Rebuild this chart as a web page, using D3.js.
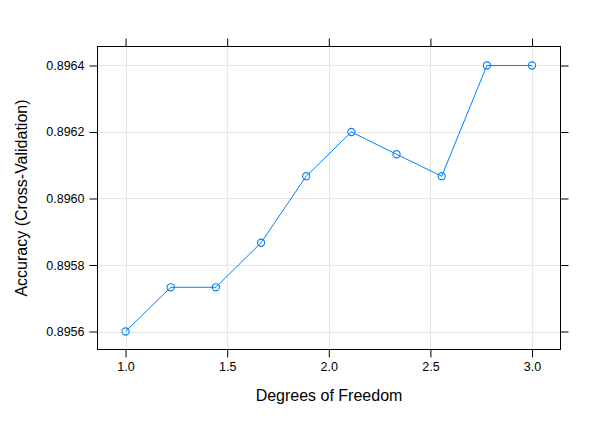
<!DOCTYPE html>
<html>
<head>
<meta charset="utf-8">
<script src="https://cdn.jsdelivr.net/npm/d3@7"></script>
<style>
  body { margin: 0; background: #fff; }
  text { font-family: "Liberation Sans", Arial, Helvetica, sans-serif; fill: #000; }
</style>
</head>
<body>
<svg id="svg" width="599" height="425"></svg>
<script>
const w = 599;
const h = 425;

// panel box
const panelLeft = 97.5;
const panelRight = 560.5;
const panelTop = 46.5;
const panelBottom = 349.5;

// data
const dof = [1.0, 1.2222, 1.4444, 1.6667, 1.8889, 2.1111, 2.3333, 2.5556, 2.7778, 3.0];
const accuracy = [0.8956, 0.895733, 0.895733, 0.895867, 0.896067, 0.8962, 0.896133, 0.896067, 0.8964, 0.8964];
const xTicks = [1.0, 1.5, 2.0, 2.5, 3.0];
const yTicks = [0.8956, 0.8958, 0.896, 0.8962, 0.8964];

const svg = d3.select("#svg");

let xScale = d3.scaleLinear([0.862, 3.14], [panelLeft, panelRight]);
let yScale = d3.scaleLinear([0.8955459, 0.8964571], [panelBottom, panelTop]);

// grid
svg.append("g")
  .selectAll("line")
  .data(xTicks)
  .join("line")
  .attr("x1", (d) => Math.round(xScale(d)) + 0.5)
  .attr("x2", (d) => Math.round(xScale(d)) + 0.5)
  .attr("y1", panelTop)
  .attr("y2", panelBottom)
  .attr("stroke", "#e6e6e6")
  .attr("stroke-width", 1);

svg.append("g")
  .selectAll("line")
  .data(yTicks)
  .join("line")
  .attr("y1", (d) => Math.round(yScale(d)) + 0.5)
  .attr("y2", (d) => Math.round(yScale(d)) + 0.5)
  .attr("x1", panelLeft)
  .attr("x2", panelRight)
  .attr("stroke", "#e6e6e6")
  .attr("stroke-width", 1);

// axes: ticks on all four sides, labels only bottom and left
const tick = 8;
const fmtX = d3.format(".1f");
const fmtY = d3.format(".4f");

const axB = d3.axisBottom(xScale).tickValues(xTicks).tickSize(tick).tickPadding(5).tickFormat(fmtX);
const axT = d3.axisTop(xScale).tickValues(xTicks).tickSize(tick).tickFormat("");
const axL = d3.axisLeft(yScale).tickValues(yTicks).tickSize(tick).tickPadding(5).tickFormat(fmtY);
const axR = d3.axisRight(yScale).tickValues(yTicks).tickSize(tick).tickFormat("");

function styleAxis(g) {
  g.select(".domain").remove();
  g.selectAll(".tick line").attr("stroke", "#000");
  g.selectAll(".tick text")
    .attr("font-size", 12.5)
    .attr("font-family", "'Liberation Sans', Arial, sans-serif")
    .attr("fill", "#000");
}

svg.append("g").attr("transform", `translate(0,${panelBottom})`).call(axB).call(styleAxis);
svg.append("g").attr("transform", `translate(0,${panelTop})`).call(axT).call(styleAxis);
svg.append("g").attr("transform", `translate(${panelLeft},0)`).call(axL).call(styleAxis);
svg.append("g").attr("transform", `translate(${panelRight},0)`).call(axR).call(styleAxis);

// panel border
svg.append("rect")
  .attr("x", panelLeft)
  .attr("y", panelTop)
  .attr("width", panelRight - panelLeft)
  .attr("height", panelBottom - panelTop)
  .attr("fill", "none")
  .attr("stroke", "#000")
  .attr("stroke-width", 1);

// series
const pts = dof.map((d, i) => [d, accuracy[i]]);

let lineFunc = d3
  .line()
  .x((d) => xScale(d[0]))
  .y((d) => yScale(d[1]));

svg.append("path")
  .datum(pts)
  .attr("fill", "none")
  .attr("stroke", "#0080ff")
  .attr("stroke-width", 1)
  .attr("d", lineFunc);

svg.append("g")
  .selectAll("circle")
  .data(pts)
  .join("circle")
  .attr("cx", (d) => xScale(d[0]))
  .attr("cy", (d) => yScale(d[1]))
  .attr("r", 3.6)
  .attr("fill", "none")
  .attr("stroke", "#0080ff")
  .attr("stroke-width", 1.1);

// axis titles
svg.append("text")
  .attr("x", (panelLeft + panelRight) / 2)
  .attr("y", 401)
  .attr("text-anchor", "middle")
  .attr("font-size", 16)
  .text("Degrees of Freedom");

svg.append("text")
  .attr("transform", `translate(27,${(panelTop + panelBottom) / 2}) rotate(-90)`)
  .attr("text-anchor", "middle")
  .attr("font-size", 16)
  .text("Accuracy (Cross-Validation)");
</script>
</body>
</html>
